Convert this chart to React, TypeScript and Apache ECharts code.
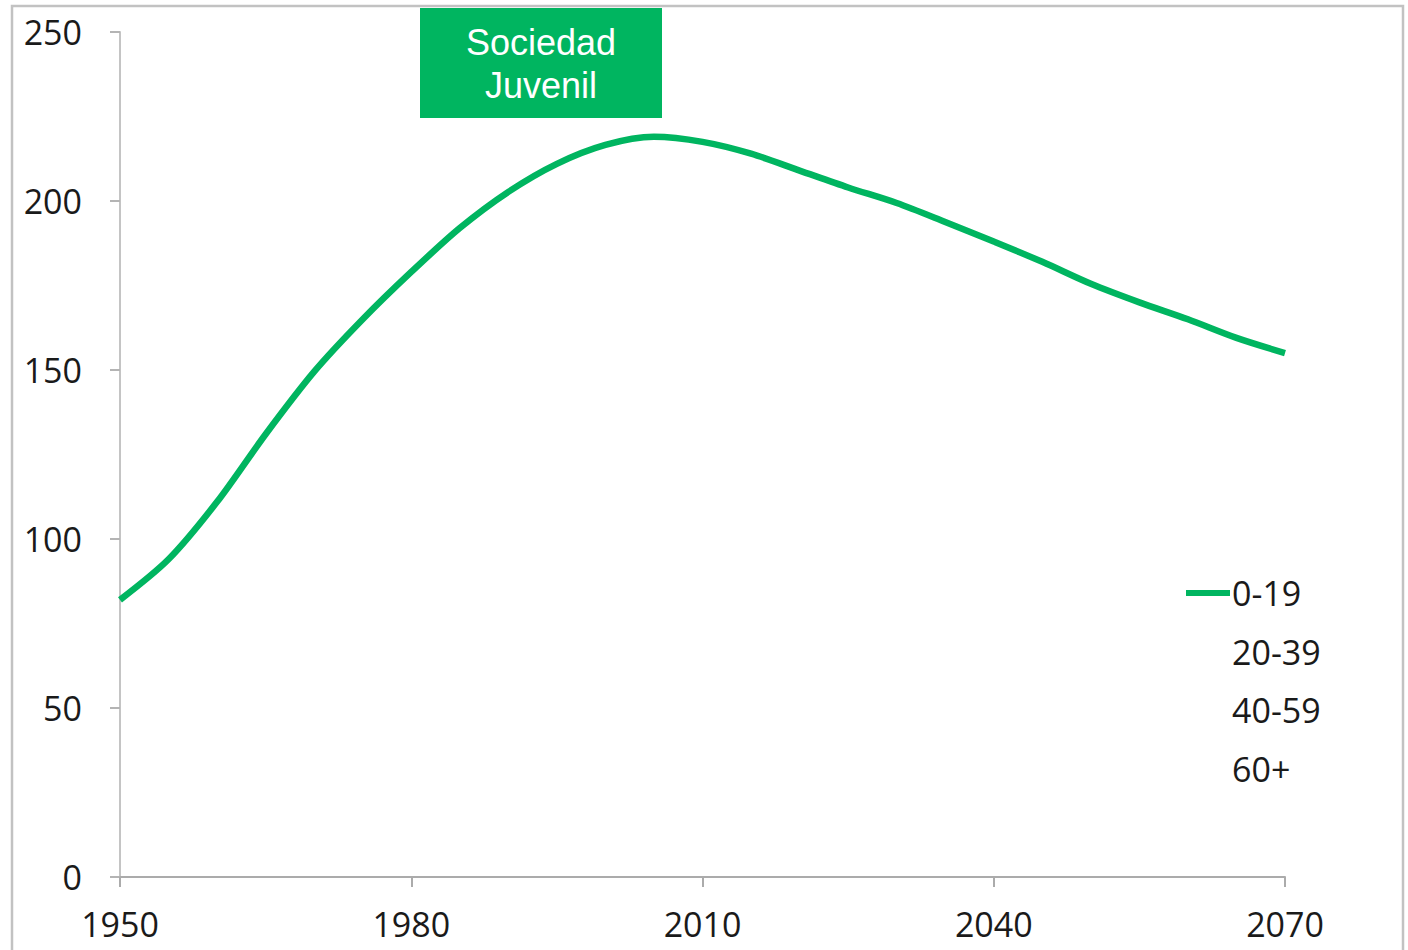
import React, { useEffect, useRef } from "react";
import * as echarts from "echarts";

const years = [1950, 1955, 1960, 1965, 1970, 1975, 1980, 1985, 1990, 1995, 2000, 2005, 2010, 2015, 2020, 2025, 2030, 2035, 2040, 2045, 2050, 2055, 2060, 2065, 2070];
const values0to19 = [82, 94, 111, 131, 149.5, 165, 179, 192, 202.7, 211, 216.6, 219, 217.5, 214, 209, 204, 199.4, 193.8, 188, 182, 175.5, 170, 165, 159.5, 155];
const legendNames = ["0-19", "20-39", "40-59", "60+"];
const annotationLines = ["Sociedad", "Juvenil"];

const GREEN = "#00b560";
const FONT = "'Open Sans', 'Liberation Sans', sans-serif";

export default function App() {
  const ref = useRef<HTMLDivElement>(null);
  useEffect(() => {
    document.body.style.margin = "0";
    const chart = echarts.init(ref.current!, null, { renderer: "svg" });
    const series: any[] = legendNames.map((name, i) => ({
      name,
      type: "line",
      data: i === 0 ? years.map((y, j) => [y, values0to19[j]]) : [],
      smooth: 0.3,
      showSymbol: false,
      symbol: "none",
      lineStyle: { width: 6.5, color: i === 0 ? GREEN : "rgba(0,0,0,0)" },
      itemStyle: { color: i === 0 ? GREEN : "rgba(0,0,0,0)" },
    }));
    chart.setOption({
      animation: false,
      backgroundColor: "#ffffff",
      grid: { left: 120, right: 123, top: 32, bottom: 73, containLabel: false },
      xAxis: {
        type: "value",
        min: 1950,
        max: 2070,
        interval: 30,
        axisLine: { show: true, lineStyle: { color: "#ababab", width: 2 } },
        axisTick: { show: true, length: 10, lineStyle: { color: "#ababab", width: 2 } },
        splitLine: { show: false },
        axisLabel: {
          margin: 29,
          fontSize: 34,
          lineHeight: 36,
          fontFamily: FONT,
          color: "#1a1a1a",
          formatter: (v: number) => String(v),
        },
      },
      yAxis: {
        type: "value",
        min: 0,
        max: 250,
        interval: 50,
        axisLine: { show: true, lineStyle: { color: "#c4c4c4", width: 2 } },
        axisTick: { show: true, length: 10, lineStyle: { color: "#b4b4b4", width: 2 } },
        splitLine: { show: false },
        axisLabel: { margin: 38, fontSize: 34, fontFamily: FONT, color: "#1a1a1a" },
      },
      legend: {
        orient: "vertical",
        left: 1186,
        top: 573,
        padding: 0,
        itemGap: 18.5,
        itemWidth: 44,
        itemHeight: 6,
        icon: "rect",
        data: legendNames,
        textStyle: { fontSize: 34, fontFamily: FONT, color: "#1a1a1a", lineHeight: 40, padding: [0, 0, 0, -3] },
      },
      graphic: [
        {
          type: "rect",
          silent: true,
          shape: { x: 12, y: 6, width: 1391, height: 1000 },
          style: { fill: "none", stroke: "#c2c2c2", lineWidth: 2.5 },
        },
        {
          type: "rect",
          shape: { x: 420, y: 8, width: 242, height: 110 },
          style: { fill: GREEN },
        },
        {
          type: "text",
          x: 541,
          y: 42,
          style: {
            text: annotationLines[0],
            fill: "#ffffff",
            font: "36px 'Liberation Sans', Arial, sans-serif",
            align: "center",
            verticalAlign: "middle",
          },
        },
        {
          type: "text",
          x: 541,
          y: 85,
          style: {
            text: annotationLines[1],
            fill: "#ffffff",
            font: "36px 'Liberation Sans', Arial, sans-serif",
            align: "center",
            verticalAlign: "middle",
          },
        },
      ],
      series,
    });
    return () => chart.dispose();
  }, []);
  return <div ref={ref} style={{ width: 1408, height: 950 }} />;
}
